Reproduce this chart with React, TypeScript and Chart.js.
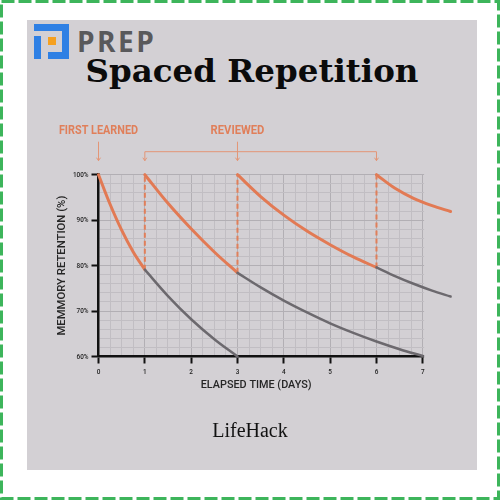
import React, { useEffect, useRef } from "react";
import { Chart, registerables } from "chart.js";

Chart.register(...registerables);

// ---- axis labels ----
const xTickValues = [0, 1, 2, 3, 4, 5, 6, 7];
const xTickLabels = ["0", "1", "2", "3", "4", "5", "6", "7"];
const yTickValues = [60, 70, 80, 90, 100];
const yTickLabels = ["60%", "70%", "80%", "90%", "100%"];
const xTitle = "ELAPSED TIME (DAYS)";
const yTitle = "MEMMORY RETENTION (%)";
const firstLearnedLabel = "FIRST LEARNED";
const reviewedLabel = "REVIEWED";
const firstLearnedDay = 0;
const reviewDays = [1, 3, 6];

// ---- retention curves (days, %) ----
const learnedTimes = [0, 0.25, 0.5, 0.75, 1];
const learnedValues = [100, 93.5, 87.8, 83.0, 79.1];
const forget1Times = [1, 1.5, 2, 2.5, 3];
const forget1Values = [79.1, 73.3, 68.2, 63.8, 60];
const review1Times = [1, 1.5, 2, 2.5, 3];
const review1Values = [100, 93.7, 88.1, 83.0, 78.4];
const forget2Times = [3, 3.5, 4, 4.5, 5, 5.5, 6, 6.5, 7];
const forget2Values = [78.4, 75.2, 72.3, 69.7, 67.3, 65.2, 63.3, 61.6, 60.1];
const review2Times = [3, 3.5, 4, 4.5, 5, 5.5, 6];
const review2Values = [100, 95.2, 91.1, 87.6, 84.6, 81.9, 79.6];
const forget3Times = [6, 6.4, 6.8, 7.2, 7.6];
const forget3Values = [79.6, 77.7, 76.0, 74.5, 73.2];
const review3Times = [6, 6.4, 6.8, 7.2, 7.6];
const review3Values = [100, 97.0, 94.8, 93.2, 91.9];
// review jumps: retention just before review -> 100%
const jumpLowValues = [79.1, 78.4, 79.6];
const jumpHighValue = 100;

const X_MIN = 0, X_AXIS_END = 7, X_MAX = 7.6, X_GRID_STEP = 0.25;
const Y_MIN = 60, Y_MAX = 100, Y_GRID_STEP = 2;

const PANEL = "#d3d0d4";
const ORANGE = "#e27a54";
const GRAY = "#6c696e";
const ANNO = "#e07f5a";
const FONT = "Roboto, 'Noto Sans', sans-serif";

const pts = (xs: number[], ys: number[]) => xs.map((x, i) => ({ x, y: ys[i] }));

function curve(label: string, xs: number[], ys: number[], color: string, width: number) {
  return {
    label,
    data: pts(xs, ys),
    borderColor: color,
    backgroundColor: color,
    borderWidth: width,
    pointRadius: 0,
    fill: false,
    cubicInterpolationMode: "monotone" as const,
    clip: false as any,
    borderCapStyle: "round" as const,
  };
}

function condText(
  ctx: CanvasRenderingContext2D,
  text: string,
  x: number,
  y: number,
  font: string,
  color: string,
  align: CanvasTextAlign,
  sx: number,
  rotate = 0
) {
  ctx.save();
  ctx.font = font;
  ctx.fillStyle = color;
  ctx.textAlign = align;
  ctx.textBaseline = "middle";
  ctx.translate(x, y);
  if (rotate) ctx.rotate(rotate);
  ctx.scale(sx, 1);
  ctx.fillText(text, 0, 0);
  ctx.restore();
}

function arrowDown(ctx: CanvasRenderingContext2D, x: number, y1: number, y2: number) {
  ctx.beginPath();
  ctx.moveTo(x, y1);
  ctx.lineTo(x, y2);
  ctx.stroke();
  ctx.beginPath();
  ctx.moveTo(x - 2, y2 - 3);
  ctx.lineTo(x, y2);
  ctx.lineTo(x + 2, y2 - 3);
  ctx.stroke();
}

const textPlugin = {
  id: "textPlugin",
  beforeDatasetsDraw(chart: any) {
    // the axis and grid end at day 7; the curves run on past it
    const ctx: CanvasRenderingContext2D = chart.ctx;
    const area = chart.chartArea;
    const x7 = chart.scales.x.getPixelForValue(X_AXIS_END);
    ctx.save();
    ctx.fillStyle = PANEL;
    ctx.fillRect(x7 + 1.3, area.top - 3, area.right - x7 + 5, area.bottom - area.top + 8);
    ctx.restore();
  },
  afterDraw(chart: any) {
    const ctx: CanvasRenderingContext2D = chart.ctx;
    const xs = chart.scales.x;
    const ys = chart.scales.y;
    const area = chart.chartArea;
    const x0 = xs.getPixelForValue(X_MIN);
    const x7 = xs.getPixelForValue(X_AXIS_END);

    // tick labels
    yTickValues.forEach((v, i) => {
      condText(ctx, yTickLabels[i], area.left - 10, ys.getPixelForValue(v), `500 8px ${FONT}`, "#222", "right", 0.8);
    });
    xTickValues.forEach((v, i) => {
      condText(ctx, xTickLabels[i], xs.getPixelForValue(v), area.bottom + 15, `500 8px ${FONT}`, "#222", "center", 0.8);
    });

    // axis titles
    condText(ctx, xTitle, (x0 + x7) / 2 - 4.5, area.bottom + 29, `500 11.3px ${FONT}`, "#262626", "center", 0.96);
    condText(ctx, yTitle, area.left - 36, (area.top + area.bottom) / 2, `500 11.3px ${FONT}`, "#262626", "center", 1.0, -Math.PI / 2);

    // annotations
    const tY = area.top - 44;
    const aTop = area.top - 33;
    const bracketY = area.top - 23;
    const aBot = area.top - 14;
    const xl = xs.getPixelForValue(firstLearnedDay);
    condText(ctx, firstLearnedLabel, xl, tY, `700 12.2px ${FONT}`, ANNO, "center", 0.89);
    const rMid = xs.getPixelForValue(reviewDays[1]);
    condText(ctx, reviewedLabel, rMid, tY, `700 12.2px ${FONT}`, ANNO, "center", 0.92);

    ctx.save();
    ctx.strokeStyle = "#e39677";
    ctx.lineWidth = 1;
    arrowDown(ctx, xl, aTop, aBot);
    const rx = reviewDays.map((d) => xs.getPixelForValue(d));
    ctx.beginPath();
    ctx.moveTo(rx[0], bracketY);
    ctx.lineTo(rx[rx.length - 1], bracketY);
    ctx.stroke();
    rx.forEach((x, i) => {
      if (i === 1) arrowDown(ctx, x, aTop, aBot);
      else arrowDown(ctx, x, bracketY, aBot);
    });
    ctx.restore();
  },
};

function ChartCanvas() {
  const ref = useRef<HTMLCanvasElement | null>(null);
  useEffect(() => {
    if (!ref.current) return;
    const dashed = reviewDays.map((d, i) => ({
      label: "review " + d,
      data: [
        { x: d, y: jumpLowValues[i] },
        { x: d, y: jumpHighValue },
      ],
      borderColor: ANNO,
      borderWidth: 2,
      borderDash: [5, 3],
      pointRadius: 0,
      fill: false,
      clip: false as any,
    }));
    const chart = new Chart(ref.current, {
      type: "line",
      data: {
        datasets: [
          curve("forgetting 1", forget1Times, forget1Values, GRAY, 2.5),
          curve("forgetting 2", forget2Times, forget2Values, GRAY, 2.5),
          curve("forgetting 3", forget3Times, forget3Values, GRAY, 2.5),
          ...dashed,
          curve("first learned", learnedTimes, learnedValues, ORANGE, 3),
          curve("review 1", review1Times, review1Values, ORANGE, 3),
          curve("review 2", review2Times, review2Values, ORANGE, 3),
          curve("review 3", review3Times, review3Values, ORANGE, 3),
        ] as any,
      },
      options: {
        responsive: false,
        maintainAspectRatio: false,
        animation: false,
        layout: { padding: { left: 78.5, right: 49.4, top: 174.7, bottom: 123.5 } },
        plugins: { legend: { display: false }, tooltip: { enabled: false } },
        scales: {
          x: {
            type: "linear",
            min: X_MIN,
            max: X_MAX,
            afterFit: (s: any) => {
              s.height = 20;
            },
            afterBuildTicks: (s: any) => {
              const t = [];
              for (let v = X_MIN; v <= X_AXIS_END + 1e-9; v += X_GRID_STEP) t.push({ value: v });
              s.ticks = t;
            },
            ticks: { display: false, autoSkip: false },
            grid: {
              color: (c: any) => (c.tick && Number.isInteger(c.tick.value) ? "#b2afb4" : "#c1bec3"),
              lineWidth: 1,
              tickLength: 7,
              tickWidth: 2,
              tickColor: (c: any) => (c.tick && Number.isInteger(c.tick.value) ? "#111" : "rgba(0,0,0,0)"),
            },
            border: { display: true, color: "#111", width: 2.5 },
          },
          y: {
            type: "linear",
            min: Y_MIN,
            max: Y_MAX,
            afterFit: (s: any) => {
              s.width = 20;
            },
            afterBuildTicks: (s: any) => {
              const t = [];
              for (let v = Y_MIN; v <= Y_MAX + 1e-9; v += Y_GRID_STEP) t.push({ value: v });
              s.ticks = t;
            },
            ticks: { display: false, autoSkip: false },
            grid: {
              color: (c: any) => (c.tick && c.tick.value % 10 === 0 ? "#b2afb4" : "#c1bec3"),
              lineWidth: 1,
              tickLength: 7,
              tickWidth: 2,
              tickColor: (c: any) => (c.tick && c.tick.value % 10 === 0 ? "#111" : "rgba(0,0,0,0)"),
            },
            border: { display: true, color: "#111", width: 2.5 },
          },
        },
      },
      plugins: [textPlugin],
    });
    return () => chart.destroy();
  }, []);
  return (
    <canvas
      ref={ref}
      width={500}
      height={500}
      style={{ position: "absolute", left: 0, top: 0, width: 500, height: 500 }}
    />
  );
}

function PrepLogo() {
  const blue = "#2f80e4";
  const box = (l: number, t: number, w: number, h: number, c: string) => (
    <div style={{ position: "absolute", left: l, top: t, width: w, height: h, background: c }} />
  );
  return (
    <div style={{ position: "absolute", left: 34, top: 24, width: 35, height: 35 }}>
      {box(0, 0, 35, 7, blue)}
      {box(28, 0, 7, 35, blue)}
      {box(14, 28, 21, 7, blue)}
      {box(0, 12, 7, 23, blue)}
      {box(14, 13, 8, 8, "#f5a020")}
    </div>
  );
}

export default function App() {
  return (
    <div
      style={{
        position: "fixed",
        left: 0,
        top: 0,
        width: 500,
        height: 500,
        background: "#ffffff",
        overflow: "hidden",
      }}
    >
      <svg width={500} height={500} style={{ position: "absolute", left: 0, top: 0 }}>
        <rect
          x={1.5}
          y={1.5}
          width={497}
          height={497}
          fill="none"
          stroke="#3db55b"
          strokeWidth={3}
          strokeDasharray="13 4"
        />
      </svg>
      <div
        style={{
          position: "absolute",
          left: 27,
          top: 20,
          width: 450,
          height: 450,
          background: PANEL,
        }}
      />
      <PrepLogo />
      <div
        style={{
          position: "absolute",
          left: 77,
          top: 23,
          font: "700 28px 'Open Sans', sans-serif",
          lineHeight: "36px",
          letterSpacing: "2.5px",
          color: "#59595b",
          whiteSpace: "nowrap",
        }}
      >
        PREP
      </div>
      <div
        style={{
          position: "absolute",
          left: 2,
          top: 51.2,
          width: 500,
          textAlign: "center",
          font: "700 32.5px 'DejaVu Serif', serif",
          lineHeight: "40px",
          color: "#0b0b0b",
          whiteSpace: "nowrap",
        }}
      >
        Spaced Repetition
      </div>
      <ChartCanvas />
      <div
        style={{
          position: "absolute",
          left: 0,
          top: 418,
          width: 500,
          textAlign: "center",
          font: "500 20px 'Liberation Serif', serif",
          lineHeight: "24px",
          color: "#111",
          whiteSpace: "nowrap",
        }}
      >
        LifeHack
      </div>
    </div>
  );
}
